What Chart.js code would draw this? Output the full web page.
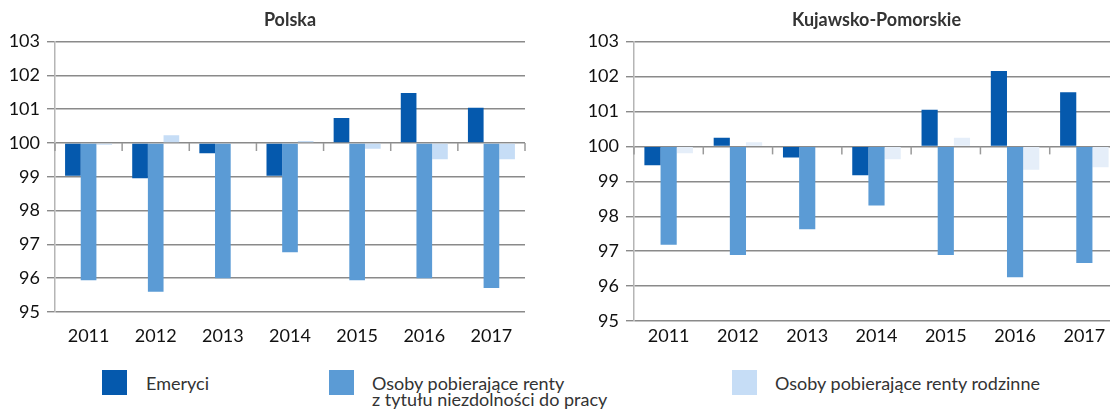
<!DOCTYPE html>
<html lang="pl">
<head>
<meta charset="utf-8">
<script src="https://cdn.jsdelivr.net/npm/chart.js@4/dist/chart.umd.min.js"></script>
<style>
  html, body { margin: 0; padding: 0; background: #fff; }
  body { position: relative; width: 1110px; height: 409px; overflow: hidden; font-family: Lato, sans-serif; }
  .box { position: absolute; top: 0; }
  #left-box { left: 0; width: 535px; height: 352px; }
  #right-box { left: 579px; width: 560px; height: 362px; }
  .swatch { position: absolute; top: 370px; width: 25px; height: 25px; }
  .label { position: absolute; top: 375px; font-size: 18px; line-height: 16px; color: #333; white-space: nowrap; }
</style>
</head>
<body>
<div class="box" id="left-box"><canvas id="chart-polska"></canvas></div>
<div class="box" id="right-box"><canvas id="chart-kp"></canvas></div>
<div id="legend"></div>

<script>
"use strict";

// dane (rok poprzedni = 100)
const years = ['2011', '2012', '2013', '2014', '2015', '2016', '2017'];
const seriesNames = ['Emeryci', 'Osoby pobierające renty\nz tytułu niezdolności do pracy', 'Osoby pobierające renty rodzinne'];

const polskaEmeryci = [99.03, 98.96, 99.70, 99.03, 100.74, 101.48, 101.04];
const polskaRentyNiezdolnosc = [95.94, 95.60, 96.00, 96.77, 95.94, 96.00, 95.71];
const polskaRentyRodzinne = [99.95, 100.23, 100.0, 100.06, 99.83, 99.52, 99.52];

const kpEmeryci = [99.46, 100.25, 99.68, 99.17, 101.05, 102.16, 101.55];
const kpRentyNiezdolnosc = [97.18, 96.89, 97.63, 98.31, 96.89, 96.25, 96.66];
const kpRentyRodzinne = [99.80, 100.12, 100.0, 99.63, 100.25, 99.33, 99.40];

const yMin = 95;
const yMax = 103;
const yBase = 100;

const colors = ['#0559ad', '#5b9bd5', '#c6ddf6'];
const gridColor = '#8a8a8a';

// małe kreski przy linii 100 na granicach kategorii
const categoryTicks = {
    id: 'categoryTicks',
    afterDatasetsDraw(chart) {
        const xs = chart.scales.x;
        const yp = chart.scales.y.getPixelForValue(yBase);
        const n = chart.data.labels.length;
        const ctx = chart.ctx;
        ctx.save();
        ctx.strokeStyle = '#9a9a9a';
        ctx.lineWidth = 1.5;
        for (let i = 0; i <= n; i++) {
            const xp = xs.left + (xs.right - xs.left) * i / n;
            ctx.beginPath();
            ctx.moveTo(xp, yp);
            ctx.lineTo(xp, yp + 8);
            ctx.stroke();
        }
        ctx.restore();
    }
};

function makeChart(canvasId, title, values, lightColor, opts) {
    const datasets = values.map((v, i) => ({
        label: seriesNames[i],
        data: v,
        base: yBase,
        backgroundColor: i === 2 ? lightColor : colors[i],
        borderWidth: 0,
        barPercentage: 1,
        categoryPercentage: 0.7
    }));

    return new Chart(document.getElementById(canvasId), {
        type: 'bar',
        data: { labels: years, datasets: datasets },
        plugins: [categoryTicks],
        options: {
            responsive: true,
            maintainAspectRatio: false,
            animation: false,
            layout: { padding: { left: 0, right: opts.padRight, top: 0, bottom: 0 } },
            plugins: {
                legend: { display: false },
                tooltip: { enabled: false },
                title: {
                    display: true,
                    text: title,
                    fullSize: false,
                    color: '#333',
                    font: { family: 'Lato', size: 18, weight: 'bold' },
                    padding: { top: 9, bottom: 11 }
                }
            },
            scales: {
                x: {
                    grid: { display: false, drawTicks: false },
                    border: { display: false },
                    ticks: { color: '#111', font: { family: 'Lato', size: 18 }, padding: opts.xPad, maxRotation: 0 },
                    afterFit: s => { s.height = opts.xHeight; }
                },
                y: {
                    min: yMin,
                    max: yMax,
                    ticks: { stepSize: 1, color: '#111', font: { family: 'Lato', size: 18 }, padding: 7 },
                    grid: { color: gridColor, lineWidth: 1.4, tickLength: 8 },
                    border: { color: '#b5b5b5', width: 1.5 },
                    afterFit: s => { s.width = 55; }
                }
            }
        }
    });
}

makeChart('chart-polska', 'Polska',
    [polskaEmeryci, polskaRentyNiezdolnosc, polskaRentyRodzinne], '#c6ddf6',
    { padRight: 10, xPad: 13, xHeight: 40 });

makeChart('chart-kp', 'Kujawsko-Pomorskie',
    [kpEmeryci, kpRentyNiezdolnosc, kpRentyRodzinne], '#e5eef9',
    { padRight: 20, xPad: 4, xHeight: 41 });

// legenda pod wykresami
const legendPos = [[102, 146], [329, 372], [732, 775]];
const legendEl = document.getElementById('legend');
seriesNames.forEach((name, i) => {
    const sw = document.createElement('div');
    sw.className = 'swatch';
    sw.style.left = legendPos[i][0] + 'px';
    sw.style.background = colors[i];
    legendEl.appendChild(sw);

    const lb = document.createElement('div');
    lb.className = 'label';
    lb.style.left = legendPos[i][1] + 'px';
    lb.innerHTML = name.replace('\n', '<br>');
    legendEl.appendChild(lb);
});
</script>
</body>
</html>
